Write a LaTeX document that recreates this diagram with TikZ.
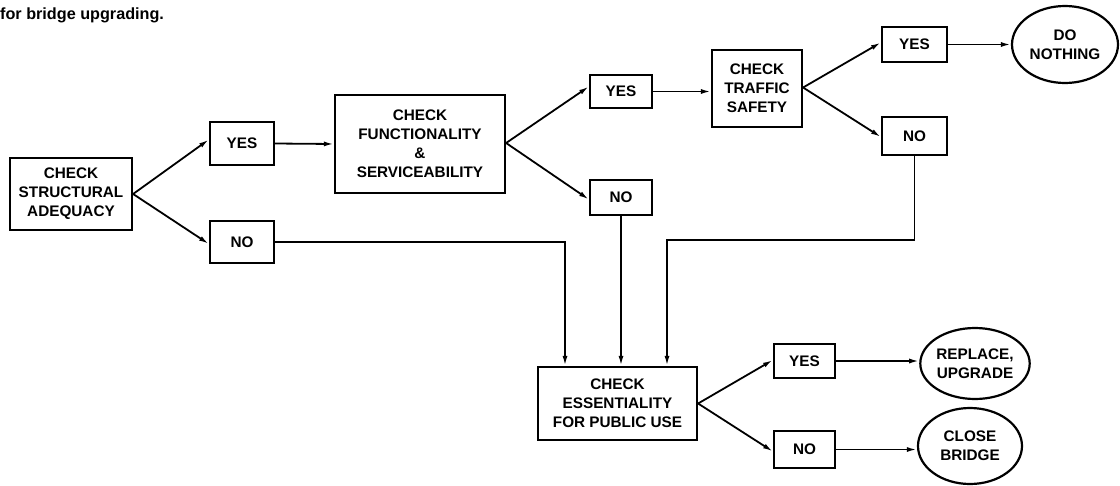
\documentclass[tikz,border=0pt]{standalone}
\usepackage{fontspec}
\setmainfont{Liberation Sans}
\usetikzlibrary{arrows.meta,shapes.geometric}
\begin{document}
\begin{tikzpicture}[x=1pt,y=-1pt,
  lbl/.style={font=\bfseries\fontsize{15.3}{19}\selectfont, align=center, inner sep=0pt},
  box/.style={lbl, draw, line width=2.2pt, rectangle},
  oval/.style={lbl, draw, line width=2.2pt, ellipse},
  conn/.style={line width=1.8pt, -{Latex[length=10pt,width=5pt]}}
]
\useasboundingbox (0,0) rectangle (1120,485);
\node[anchor=base west, font=\bfseries\fontsize{16.2}{18}\selectfont, inner sep=0pt] (cap) at (0,19) {for bridge upgrading.};

\node[box, minimum width=122pt, minimum height=72pt] (sa) at (71,194) {CHECK\\STRUCTURAL\\ADEQUACY};
\node[box, minimum width=64pt, minimum height=43pt] (yes1) at (242,143.5) {YES};
\node[box, minimum width=64pt, minimum height=42pt] (no1) at (242,242) {NO};
\node[box, minimum width=170pt, minimum height=98pt] (func) at (420,144) {CHECK\\FUNCTIONALITY\\\&\\SERVICEABILITY};
\node[box, minimum width=62pt, minimum height=33pt] (yes2) at (621,91.5) {YES};
\node[box, minimum width=62pt, minimum height=35pt] (no2) at (621,197.5) {NO};
\node[box, minimum width=90pt, minimum height=77pt] (ts) at (757,88.5) {CHECK\\TRAFFIC\\SAFETY};
\node[box, minimum width=65pt, minimum height=35pt] (yes3) at (914.5,44.5) {YES};
\node[box, minimum width=65pt, minimum height=38pt] (no3) at (914.5,136) {NO};
\node[oval, minimum width=106pt, minimum height=77pt] (don) at (1065,44.5) {DO\\NOTHING};
\node[box, minimum width=159pt, minimum height=73pt] (ess) at (617.5,403.5) {CHECK\\ESSENTIALITY\\FOR PUBLIC USE};
\node[box, minimum width=61pt, minimum height=34pt] (yes4) at (804.5,361) {YES};
\node[box, minimum width=61pt, minimum height=37pt] (no4) at (804.5,449.5) {NO};
\node[oval, minimum width=104pt, minimum height=71pt] (ru) at (975,363.5) {REPLACE,\\UPGRADE};
\node[oval, minimum width=104pt, minimum height=76pt] (cb) at (970,446) {CLOSE\\BRIDGE};

\coordinate (c1) at (565,242);
\coordinate (c3a) at (914.5,240);
\coordinate (c3b) at (667,240);

\draw[conn] (sa.east) -- ([yshift=4pt]yes1.west);
\draw[conn] (sa.east) -- ([yshift=-2pt]no1.west);
\draw[conn] (yes1.east) -- (func.west);
\draw[conn] ([yshift=1pt]func.east) -- ([yshift=5pt]yes2.west);
\draw[conn] ([yshift=1pt]func.east) -- ([yshift=-2pt]no2.west);
\draw[conn] (yes2.east) -- (yes2.east -| ts.west);
\draw[conn] ([yshift=1pt]ts.east) -- ([yshift=2pt]yes3.west);
\draw[conn] ([yshift=1pt]ts.east) -- ([yshift=-1pt]no3.west);
\draw[conn] (yes3.east) -- (don.west);
\draw[conn] (no1.east) -- (c1) -- (c1 |- ess.north);
\draw[conn] (no2.south) -- (no2.south |- ess.north);
\draw[conn] (no3.south) -- (c3a) -- (c3b) -- (c3b |- ess.north);
\draw[conn] (ess.east) -- ([yshift=1pt]yes4.west);
\draw[conn] (ess.east) -- ([yshift=-2pt]no4.west);
\draw[conn] (yes4.east) -- (yes4.east -| ru.west);
\draw[conn] (no4.east) -- (no4.east -| cb.west);
\end{tikzpicture}
\end{document}
